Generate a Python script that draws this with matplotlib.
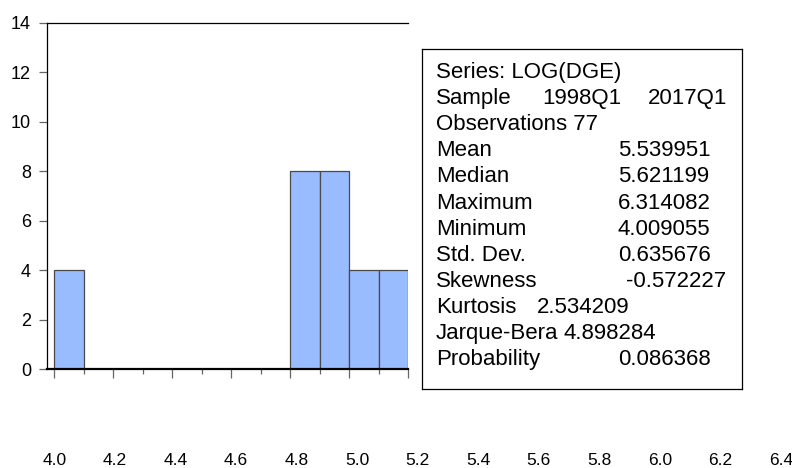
import numpy as np
import matplotlib
matplotlib.use("Agg")
import matplotlib.pyplot as plt

plt.rcParams['font.family'] = ['Liberation Sans', 'DejaVu Sans']

# histogram data (visible part only)
bin_left = [4.0, 4.1, 4.2, 4.3, 4.4, 4.5, 4.6, 4.7, 4.8, 4.9, 5.0, 5.1]
counts = [4, 0, 0, 0, 0, 0, 0, 0, 8, 8, 4, 4]
bin_width = 0.1

x_labels = np.round(np.arange(4.0, 6.41, 0.2), 1)
y_ticks = [0, 2, 4, 6, 8, 10, 12, 14]

series_line = "Series: LOG(DGE)"
sample_start = "1998Q1"
sample_end = "2017Q1"
obs_line = "Observations 77"
stat_names = ["Mean", "Median", "Maximum", "Minimum", "Std. Dev.", "Skewness"]
stat_values = ["5.539951", "5.621199", "6.314082", "4.009055", "0.635676", "-0.572227"]
kurtosis = "2.534209"
jarque_bera = "4.898284"
probability = "0.086368"

W, H = 792, 468
fig = plt.figure(figsize=(W / 100, H / 100), dpi=100)


def box(x0, y0, x1, y1):
    # pixel box (top-left origin) -> figure fraction rect
    return [x0 / W, 1 - y1 / H, (x1 - x0) / W, (y1 - y0) / H]


# main histogram axes, cut off on the right like the original
ax = fig.add_axes(box(47.3, 22.7, 408, 369))
ax.bar(bin_left, counts, width=bin_width, align='edge',
       color='#99bbff', edgecolor='#4a4a4a', linewidth=0.9, zorder=2)
ax.set_xlim(4.0 - 7 / 300, 4.0 + (408 - 54.3) / 300)
ax.set_ylim(0, 14)
ax.set_yticks(y_ticks)
ax.set_xticks(np.arange(4.0, 5.21, 0.2))
ax.set_xticks(np.arange(4.1, 5.21, 0.2), minor=True)
ax.tick_params(axis='x', which='major', length=6.2, width=0.9, color='#666666',
               labelbottom=False, direction='out')
ax.tick_params(axis='x', which='minor', length=3.6, width=0.9, color='#666666',
               direction='out')
ax.tick_params(axis='y', length=5.8, width=0.9, color='#666666', labelsize=13,
               pad=6)
ax.spines['right'].set_visible(False)
ax.spines['left'].set_linewidth(0.9)
ax.spines['top'].set_linewidth(0.9)
ax.spines['bottom'].set_linewidth(1.6)
ax.spines['bottom'].set_zorder(3)

# x tick labels sit far below the plot, running out to 6.4
ax2 = fig.add_axes(box(54.3, 451, 781, 452))
ax2.set_xlim(4.0, 6.4)
ax2.set_xticks(x_labels)
ax2.set_xticklabels([f"{v:.1f}" for v in x_labels])
ax2.tick_params(axis='x', length=0, labelsize=12.5, pad=1)
ax2.set_yticks([])
for s in ax2.spines.values():
    s.set_visible(False)
ax2.patch.set_visible(False)

# stats box
bx0, by0, bx1, by1 = 422.3, 48.7, 742.3, 389
axb = fig.add_axes(box(bx0, by0, bx1, by1))
axb.set_xticks([])
axb.set_yticks([])
for s in axb.spines.values():
    s.set_linewidth(0.9)
    s.set_color('black')


def put(px, row, txt):
    y = 78 + 26.1 * row
    axb.text((px - bx0) / (bx1 - bx0), 1 - (y - by0) / (by1 - by0), txt,
             transform=axb.transAxes, fontsize=16, va='baseline', ha='left')


put(436, 0, series_line)
put(436, 1, "Sample")
put(542, 1, sample_start)
put(648, 1, sample_end)
put(436, 2, obs_line)
for i, (n, v) in enumerate(zip(stat_names, stat_values)):
    put(436, 3 + i, n)
    put(626 if v.startswith('-') else 618, 3 + i, v)
put(436, 9, "Kurtosis")
put(537, 9, kurtosis)
put(436, 10, "Jarque-Bera")
put(564, 10, jarque_bera)
put(436, 11, "Probability")
put(618, 11, probability)

fig.savefig("out.png", dpi=100)
